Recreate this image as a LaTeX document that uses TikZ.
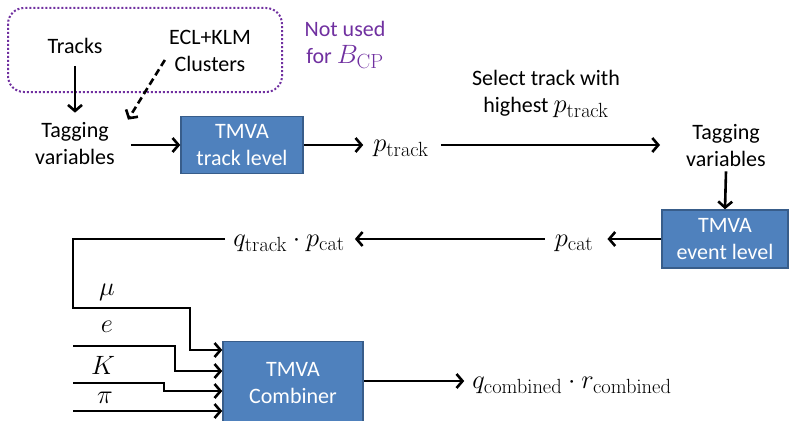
\RequirePackage{fix-cm}
\documentclass[tikz,border=0pt]{standalone}
\usepackage[no-math]{fontspec}
\setmainfont{Carlito}
\DeclareMathSizes{22}{26.5}{20.5}{16}
\usetikzlibrary{arrows.meta}
\definecolor{boxblue}{HTML}{4F81BD}
\definecolor{boxedge}{HTML}{385D8A}
\definecolor{notpurple}{HTML}{7030A0}
\begin{document}
\begin{tikzpicture}[x=1pt,y=-1pt,
  every node/.style={font=\fontsize{22}{27}\selectfont, align=center, inner sep=2pt},
  conn/.style={line width=2.6pt},
  arr/.style={conn, -{Straight Barb[length=6pt,width=14pt]}},
  tmva/.style={draw=boxedge, line width=1.5pt, fill=boxblue, text=white, minimum width=122pt, minimum height=57pt},
  lbl/.style={inner sep=0pt}]
\useasboundingbox (0,0) rectangle (789,420);
% group box
\draw[notpurple, line width=2pt, dotted, rounded corners=16pt] (8,8) rectangle (282,92);
\node (tracks) at (75,46) {Tracks};
\node (ecl) at (210,51) {ECL+KLM\\Clusters};
\node[text=notpurple] (notused) at (345,45) {Not used\\for $B_{\mathrm{CP}}$};
\node (tv1) at (75,144) {Tagging\\variables};
\node[tmva] (tl) at (242,145) {TMVA\\track level};
\node[lbl] (ptrack) at (401,148) {$p_{\mathrm{track}}$};
\node (sel) at (546,94) {Select track with\\highest $p_{\mathrm{track}}$};
\node (tv2) at (726,146) {Tagging\\variables};
\node[tmva, minimum width=126pt, minimum height=58pt] (el) at (725,239) {TMVA\\event level};
\node[lbl] (pcat) at (574,243) {$p_{\mathrm{cat}}$};
\node[lbl] (qp) at (289,243) {$q_{\mathrm{track}}\cdot p_{\mathrm{cat}}$};
\node[tmva, minimum width=140pt, minimum height=83pt] (comb) at (293,383) {TMVA\\Combiner};
\node[lbl] (qr) at (572,385) {$q_{\mathrm{combined}}\cdot r_{\mathrm{combined}}$};
\node[lbl] (mu) at (107,292) {$\mu$};
\node[lbl] (el2) at (107,327) {$e$};
\node[lbl] (kl) at (103,365) {$K$};
\node[lbl] (pil) at (105,398) {$\pi$};
\coordinate (eS) at (73,346);
\coordinate (kS) at (73,383);
\coordinate (piS) at (73,411);
% connectors
\draw[arr] ([yshift=-10pt]tracks.south) -- ([yshift=8pt]tv1.north);
\draw[arr, dash pattern=on 7pt off 4pt] ([xshift=-2pt,yshift=-9pt]ecl.west) -- ([xshift=11pt,yshift=1pt]tv1.north east);
\draw[arr] ([xshift=14pt]tv1.east |- tl.west) -- (tl.west);
\draw[arr] (tl.east) -- ([xshift=-10pt]tl.east -| ptrack.west);
\draw[arr] ([xshift=12pt]tl.east -| ptrack.east) -- ([xshift=-24pt]tl.east -| tv2.west);
\draw[arr] ([yshift=-2pt]tv2.south) -- (el.north);
\draw[arr] (el.west) -- ([xshift=14pt]el.west -| pcat.east);
\draw[arr] ([xshift=-10pt]el.west -| pcat.west) -- ([xshift=10pt]el.west -| qp.east);
\draw[arr] ([xshift=-8pt]el.west -| qp.west) -| (73,308) -| (190,350) -- (comb.west |- 0,350);
\draw[arr] (eS) -| (175,371) -- (comb.west |- 0,371);
\draw[arr] (kS) -| (164,391) -- (comb.west |- 0,391);
\draw[arr] (piS) -- (comb.west |- piS);
\draw[arr] (comb.east |- 0,381) -- ([xshift=-8pt]qr.west |- 0,381);
\end{tikzpicture}
\end{document}
